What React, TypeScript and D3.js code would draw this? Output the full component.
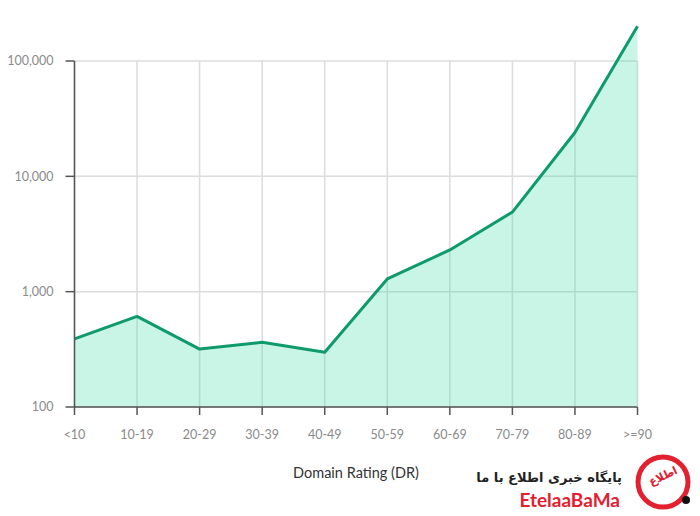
import React from "react";
import * as d3 from "d3";

const categories = ["<10", "10-19", "20-29", "30-39", "40-49", "50-59", "60-69", "70-79", "80-89", ">=90"];
const values = [390, 610, 318, 364, 298, 1290, 2300, 4900, 24000, 200000];
const yTicks = [100, 1000, 10000, 100000];
const xTitle = "Domain Rating (DR)";
const wmFa = "پایگاه خبری اطلاع با ما";
const wmEn = "EtelaaBaMa";
const wmLogo = "اطلاع";

const W = 700;
const H = 516;
const left = 74.5;
const right = 637.5;
const top = 61;
const bottom = 407;

export default function App() {
  const x = d3.scalePoint<string>().domain(categories).range([left, right]);
  const y = d3.scaleLog().domain([100, 100000]).range([bottom, top]);
  const pts = categories.map((c, i) => [x(c)!, y(values[i])] as [number, number]);
  const line = d3.line<[number, number]>()(pts)!;
  const area = d3
    .area<[number, number]>()
    .x((d) => d[0])
    .y0(bottom)
    .y1((d) => d[1])(pts)!;
  const fmt = d3.format(",");
  const font = "Lato, 'Noto Sans', sans-serif";

  return (
    <svg
      width={W}
      height={H}
      style={{ position: "absolute", left: 0, top: 0, background: "#fff" }}
      fontFamily={font}
    >
      <g>
        {categories.map((c) => (
          <line key={"v" + c} x1={x(c)} x2={x(c)} y1={top} y2={bottom} stroke="#dcdcdc" strokeWidth={1.5} />
        ))}
        {yTicks.map((t) => (
          <line key={"h" + t} x1={left} x2={right} y1={y(t)} y2={y(t)} stroke="#dcdcdc" strokeWidth={1.5} />
        ))}
      </g>
      <path d={area} fill="#3ddba6" fillOpacity={0.28} />
      <path d={line} fill="none" stroke="#0f9a6c" strokeWidth={3} strokeLinejoin="round" />
      {/* y axis */}
      <line x1={left} x2={left} y1={top} y2={bottom} stroke="#555" strokeWidth={1.5} />
      {yTicks.map((t) => (
        <g key={"yt" + t}>
          <line x1={left - 9} x2={left} y1={y(t)} y2={y(t)} stroke="#555" strokeWidth={1.5} />
          <text x={left - 21} y={y(t)} dy="0.35em" textAnchor="end" fontSize={12.5} fill="#8a8a8a">
            {fmt(t)}
          </text>
        </g>
      ))}
      {/* x axis */}
      <line x1={left} x2={right} y1={bottom} y2={bottom} stroke="#555" strokeWidth={1.5} />
      {categories.map((c) => (
        <g key={"xt" + c}>
          <line x1={x(c)} x2={x(c)} y1={bottom} y2={bottom + 8} stroke="#555" strokeWidth={1.5} />
          <text x={x(c)} y={bottom + 28} dy="0.35em" textAnchor="middle" fontSize={12.5} fill="#8a8a8a">
            {c}
          </text>
        </g>
      ))}
      <text x={356} y={473} dy="0.35em" textAnchor="middle" fontSize={14.5} fill="#333">
        {xTitle}
      </text>
      {/* watermark */}
      <g>
        <text x={622} y={477} dy="0.35em" textAnchor="start" fontSize={13} fontWeight="bold" fill="#222" fontFamily="'DejaVu Sans', sans-serif" direction="rtl">
          {wmFa}
        </text>
        <text x={620} y={500} dy="0.35em" textAnchor="end" fontSize={19} fontWeight="bold" fill="#e3202f">
          {wmEn}
        </text>
        <circle cx={663} cy={482} r={25} fill="none" stroke="#e3202f" strokeWidth={5} />
        <text x={663} y={476} dy="0.35em" textAnchor="middle" fontSize={11} fontWeight="bold" fill="#e3202f" fontFamily="'DejaVu Sans', sans-serif" direction="rtl" transform="rotate(-25 663 476)">
          {wmLogo}
        </text>
        <circle cx={686} cy={500} r={4} fill="#111" />
      </g>
    </svg>
  );
}
